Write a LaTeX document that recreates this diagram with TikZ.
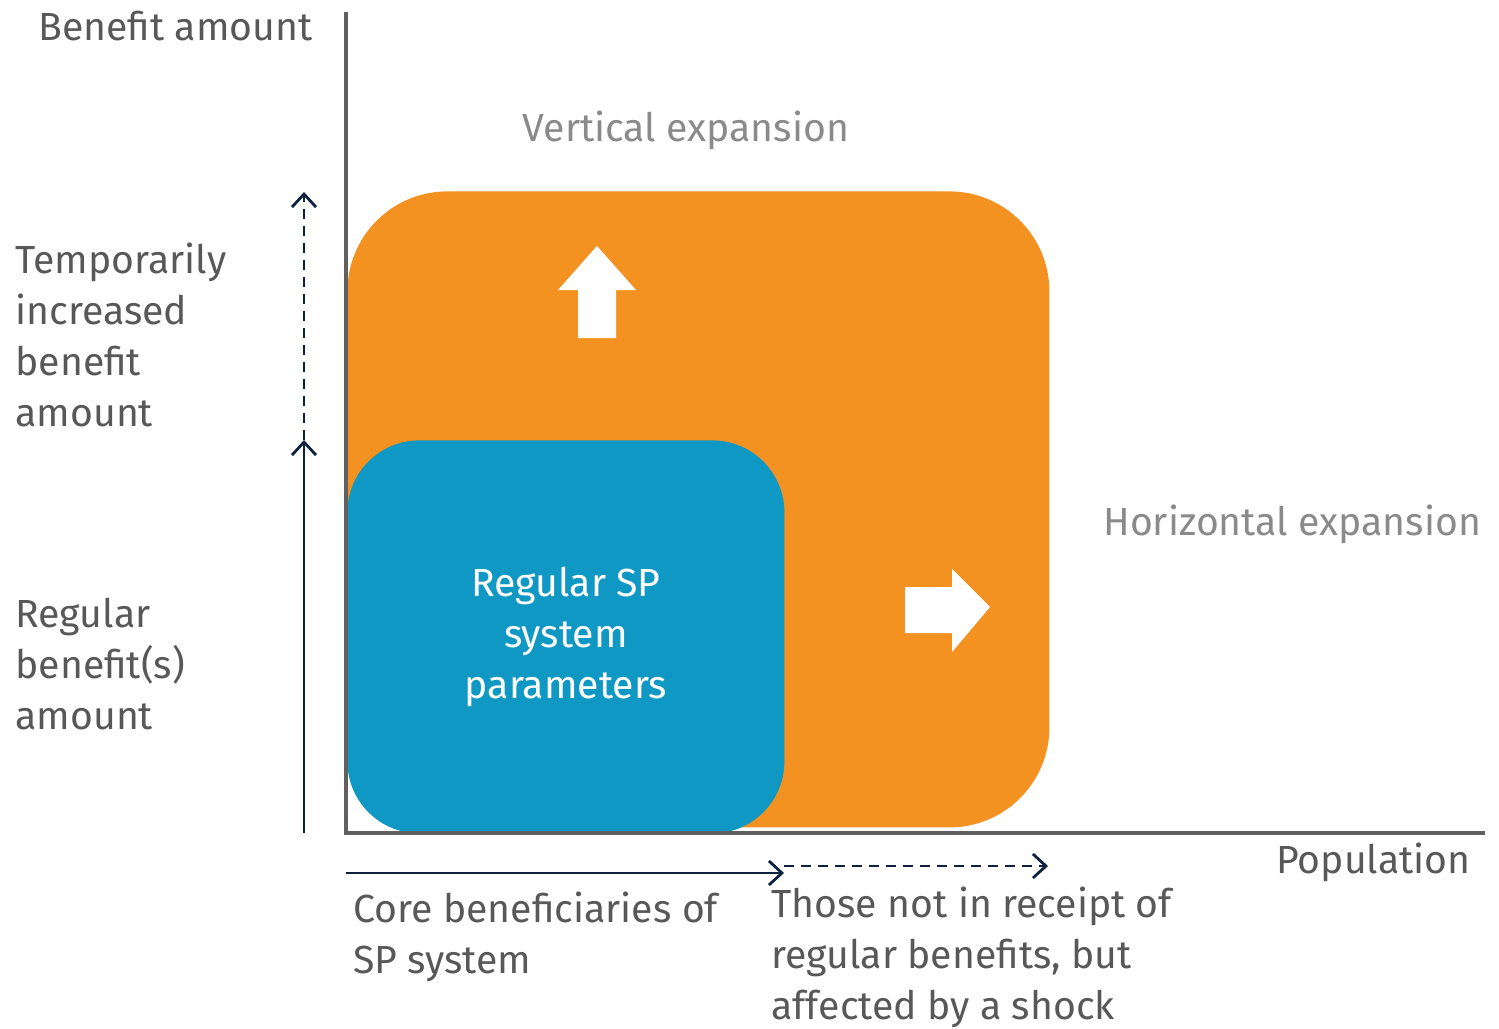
\documentclass[tikz,border=0pt]{standalone}
\usepackage{fontspec}
\setmainfont{Fira Sans}
\usetikzlibrary{arrows.meta,positioning}
\definecolor{spOrange}{HTML}{F39121}
\definecolor{spBlue}{HTML}{0F98C4}
\definecolor{axisGrey}{HTML}{606060}
\definecolor{labelGrey}{HTML}{585858}
\definecolor{softGrey}{HTML}{8A8A8A}
\definecolor{navy}{HTML}{0D2241}

\begin{document}
\begin{tikzpicture}[x=0.5pt, y=-0.5pt,
  every node/.style = {inner sep=0pt, align=left,
    text=labelGrey, font=\fontsize{19.6}{25.5}\selectfont},
  axis/.style = {draw=axisGrey, line width=2pt},
  span/.style = {draw=navy, line width=1.4pt,
    -{Straight Barb[length=6.5pt, width=12pt]}},
  maybe/.style = {span, dash pattern=on 5pt off 3.5pt},
  block/.style = {anchor=north west, minimum width=#1}]
  \useasboundingbox (0,0) rectangle (1499,1028);

  % the two boxes
  \node[block=351pt, minimum height=318pt, fill=spOrange,
    rounded corners=50pt] (surge) at (347,191) {};
  \node[block=218.5pt, minimum height=196.5pt, fill=spBlue,
    rounded corners=36pt, text=white, align=center] (regular) at (347,440)
    {Regular SP\\system\\parameters};

  % white expansion arrows
  \fill[white] (597,246) -- (636,290) -- (616,290) -- (616,338)
    -- (578,338) -- (578,290) -- (558,290) -- cycle;
  \fill[white] (990,607) -- (952,652) -- (952,633) -- (905,633)
    -- (905,587) -- (952,587) -- (952,569) -- cycle;

  % axes
  \coordinate (origin) at (346,833);
  \coordinate (ytop) at (346,12);
  \coordinate (xend) at (1485,833);
  \draw[axis] (ytop) -- (origin) -- (xend);

  % spans along the axes
  \coordinate (ybase) at (304,833);
  \coordinate (yreg) at (304,440);
  \coordinate (ytemp) at (304,192);
  \draw[span] (ybase) -- (yreg);
  \draw[maybe] (yreg) -- (ytemp);
  \coordinate (xbase) at (346,873);
  \coordinate (xcore) at (784,873);
  \coordinate (xshock) at (784,866);
  \coordinate (xfar) at (1048,866);
  \draw[span] (xbase) -- (xcore);
  \draw[maybe] (xshock) -- (xfar);

  % labels (base of a multi-line node is its last line)
  \node[anchor=base east] (ylabel) at (313,40) {Benefit amount};
  \node[anchor=base, text=softGrey] (vert) at (686,141) {Vertical expansion};
  \node[anchor=base west, text=softGrey] (horiz) at (1103,535) {Horizontal expansion};
  \node[anchor=base east] (xlabel) at (1471,873) {Population};
  \node[anchor=base west] (temp) at (15,426)
    {Temporarily\\increased\\benefit\\amount};
  \node[anchor=base west] (regamt) at (15,729)
    {Regular\\benefit(s)\\amount};
  \node[anchor=base west] (core) at (353,973)
    {Core beneficiaries of\\SP system};
  \node[anchor=base west] (shock) at (771,1019)
    {Those not in receipt of\\regular benefits, but\\affected by a shock};
\end{tikzpicture}
\end{document}
